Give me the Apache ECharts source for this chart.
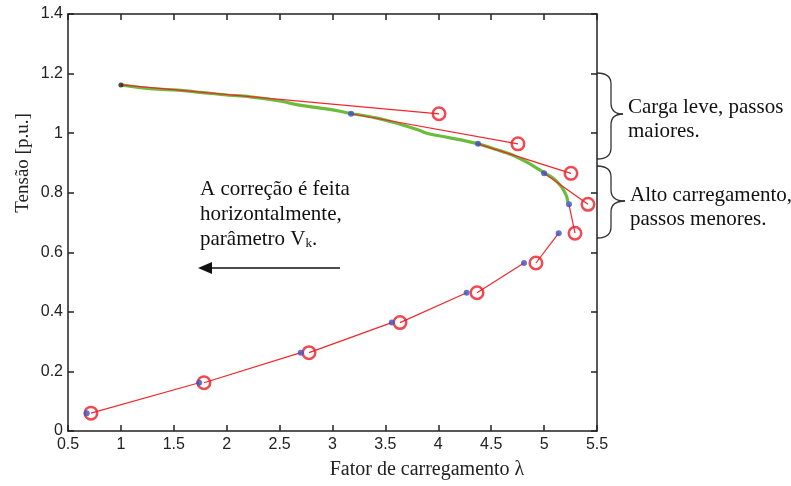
<!DOCTYPE html>
<html><head><meta charset="utf-8">
<script src="https://cdn.jsdelivr.net/npm/echarts@6/dist/echarts.min.js"></script>
<style>html,body{margin:0;padding:0;background:#fff}#c{width:791px;height:486px}</style>
</head><body><div id="c"></div>
<script>
// Exact PV curve (upper branch), green
const curveLambda = [1.0,1.25,1.5,1.75,2.0,2.22,2.5,2.69,3.0,3.175,3.4,3.6,3.8,3.92,4.1,4.378,4.55,4.706,4.85,5.0,5.08,5.15,5.19,5.213,5.225];
const curveV      = [1.162,1.15,1.145,1.137,1.128,1.122,1.108,1.094,1.078,1.066,1.052,1.034,1.012,0.997,0.985,0.964,0.945,0.926,0.9,0.867,0.85,0.826,0.805,0.787,0.768];
// Corrector points (first = starting point)
const corrLambda = [1.0,3.175,4.375,5.0,5.235,5.138,4.81,4.268,3.56,2.70,1.74,0.677];
const corrV      = [1.162,1.065,0.964,0.865,0.761,0.664,0.564,0.464,0.364,0.263,0.162,0.060];
// Predictor points (red circles)
const predLambda = [4.007,4.753,5.254,5.415,5.292,4.923,4.366,3.638,2.778,1.785,0.717];
const predV      = [1.065,0.964,0.865,0.761,0.664,0.564,0.464,0.364,0.263,0.162,0.060];
// Axis ticks
const xTicks = [0.5,1,1.5,2,2.5,3,3.5,4,4.5,5,5.5];
const yTicks = [0,0.2,0.4,0.6,0.8,1,1.2,1.4];

const curveData = curveLambda.map((l,i)=>[l,curveV[i]]);
const corrData = corrLambda.slice(1).map((l,i)=>[l,corrV[i+1]]);
const startData = [[corrLambda[0],corrV[0]]];
const predData = predLambda.map((l,i)=>[l,predV[i]]);
const segData = [];
for (let i=0;i<predLambda.length;i++){
  segData.push([corrLambda[i],corrV[i]]);
  segData.push([predLambda[i],predV[i]]);
  segData.push('-');
}

function brace(x0, xm, xt, yTop, yTip, yBot){
  const st = {stroke:'#333',lineWidth:1.3,fill:null};
  const r = 11;
  return [
    {type:'bezierCurve',shape:{x1:x0,y1:yTop,x2:xm,y2:yTop+r,cpx1:xm,cpy1:yTop},style:st},
    {type:'line',shape:{x1:xm,y1:yTop+r,x2:xm,y2:yTip-r},style:st},
    {type:'bezierCurve',shape:{x1:xm,y1:yTip-r,x2:xt,y2:yTip,cpx1:xm,cpy1:yTip},style:st},
    {type:'bezierCurve',shape:{x1:xt,y1:yTip,x2:xm,y2:yTip+r,cpx1:xm,cpy1:yTip},style:st},
    {type:'line',shape:{x1:xm,y1:yTip+r,x2:xm,y2:yBot-r},style:st},
    {type:'bezierCurve',shape:{x1:xm,y1:yBot-r,x2:x0,y2:yBot,cpx1:xm,cpy1:yBot},style:st}
  ];
}

const chart = echarts.init(document.getElementById('c'));
const axisCommon = {
  axisLine:{show:true,onZero:false,lineStyle:{color:'#222',width:1.5}},
  axisTick:{show:true,inside:true,length:6,lineStyle:{color:'#222',width:1.5}},
  splitLine:{show:false}
};
const sans = 'Liberation Sans, Arial, sans-serif';
const serif = 'Liberation Serif, Times New Roman, serif';
chart.setOption({
  animation:false,
  backgroundColor:'#fff',
  grid:{left:68,right:194,top:14,bottom:55,containLabel:false},
  xAxis:[
    Object.assign({type:'value',min:xTicks[0],max:xTicks[xTicks.length-1],interval:0.5,position:'bottom',
      axisLabel:{color:'#222',fontFamily:sans,fontSize:16,margin:6,formatter:v=>String(v)}},axisCommon),
    Object.assign({type:'value',min:xTicks[0],max:xTicks[xTicks.length-1],interval:0.5,position:'top',
      axisLabel:{show:false}},axisCommon)
  ],
  yAxis:[
    Object.assign({type:'value',min:yTicks[0],max:yTicks[yTicks.length-1],interval:0.2,position:'left',
      axisLabel:{color:'#222',fontFamily:sans,fontSize:16,margin:5,formatter:v=>String(+v.toFixed(1))}},axisCommon),
    Object.assign({type:'value',min:yTicks[0],max:yTicks[yTicks.length-1],interval:0.2,position:'right',
      axisLabel:{show:false}},axisCommon)
  ],
  series:[
    {type:'line',data:curveData,showSymbol:false,symbol:'none',smooth:0.3,
      lineStyle:{color:'#6abd3c',width:3.2},z:2},
    {type:'line',data:segData,showSymbol:false,symbol:'none',connectNulls:false,
      lineStyle:{color:'#f0282d',width:1.2},z:3},
    {type:'scatter',data:predData,symbol:'circle',symbolSize:12.5,
      itemStyle:{color:'rgba(255,255,255,0)',borderColor:'#ee1c24',borderWidth:2.5},z:4},
    {type:'scatter',data:corrData,symbol:'circle',symbolSize:6,
      itemStyle:{color:'#3f4fbf'},z:5},
    {type:'scatter',data:startData,symbol:'circle',symbolSize:5,
      itemStyle:{color:'#222'},z:5}
  ],
  graphic:[
    {type:'text',x:23,y:163,rotation:Math.PI/2,style:{text:'Tensão [p.u.]',font:'19px '+serif,fill:'#222',align:'center',verticalAlign:'middle'}},
    {type:'text',x:427,y:470,style:{text:'Fator de carregamento λ',font:'20px '+serif,fill:'#222',align:'center',verticalAlign:'middle'}},
    {type:'text',x:200,y:177,style:{text:'A correção é feita\nhorizontalmente,\nparâmetro V{s|k}.',font:'21px '+serif,fill:'#111',lineHeight:25,
      rich:{s:{fontSize:13,fontFamily:serif,fill:'#111',padding:[9,0,0,0]}}}},
    {type:'line',shape:{x1:340,y1:268,x2:210,y2:268},style:{stroke:'#111',lineWidth:1.5}},
    {type:'polygon',shape:{points:[[198,268],[212,262],[212,274]]},style:{fill:'#111'}},
    ...brace(597,611,623,73,114,159),
    ...brace(597,611,625,166,201,238),
    {type:'text',x:628,y:95,style:{text:'Carga leve, passos\nmaiores.',font:'21px '+serif,fill:'#111',lineHeight:24}},
    {type:'text',x:630,y:183,style:{text:'Alto carregamento,\npassos menores.',font:'21px '+serif,fill:'#111',lineHeight:24}}
  ]
});
</script></body></html>
